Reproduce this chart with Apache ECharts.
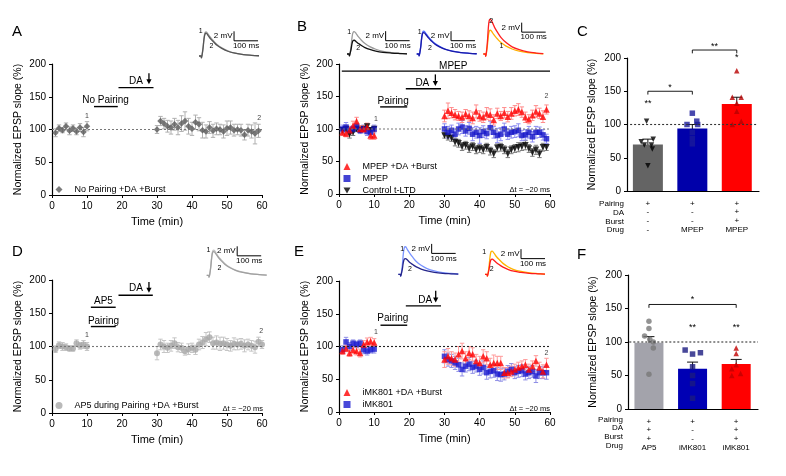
<!DOCTYPE html>
<html><head><meta charset="utf-8">
<script src="https://cdn.jsdelivr.net/npm/echarts@6/dist/echarts.min.js"></script>
<style>html,body{margin:0;padding:0;background:#fff}#c{width:786px;height:476px}</style>
</head><body><div id="c"></div>
<script>
// ---------------- DATA ----------------
const timeMin = [1,2,3,4,5,6,7,8,9,10,30,31,32,33,34,35,36,37,38,39,40,41,42,43,44,45,46,47,48,49,50,51,52,53,54,55,56,57,58,59];
const timeMinD = [1,2,3,4,5,6,7,8,9,10,30,31,32,33,34,35,36,37,38,39,40,41,42,43,44,45,46,47,48,49,50,51,52,53,54,55,56,57,58,59,60];

// Panel A: No Pairing +DA +Burst
const aNoPair = [95,102,99,105,98,102,97,103,96,105, 100,113,109,105,103,108,103,109,113,105, 101,111,108,99,97,103,98,101,100,97, 102,103,99,100,99,92,99,97,94,98];
const aNoPairErr = [6,5,4,5,6,5,5,6,7,7, 6,7,8,9,10,9,11,12,14,12, 10,11,10,12,10,9,10,9,8,10, 11,10,9,8,9,8,9,10,16,10];

// Panel B
const bMpepDaBurst = [95,93,98,105,112,100,100,103,90,90, 120,128,125,122,120,118,123,120,117,127, 120,118,124,122,114,124,120,125,119,124, 128,130,126,118,115,121,127,124,119,130];
const bMpepDaBurstErr = [5,5,6,7,6,5,5,6,6,6, 9,12,8,8,7,8,7,8,9,10, 8,8,9,9,8,8,7,8,8,9, 8,9,8,8,7,8,9,8,9,7];
const bMpep = [100,103,98,100,104,98,100,96,95,100, 100,95,98,92,100,103,97,101,92,95, 90,96,93,102,95,90,92,100,92,95, 96,98,90,91,95,88,95,95,91,85];
const bMpepErr = [6,7,5,5,5,5,6,6,7,6, 8,9,8,8,9,10,8,9,10,9, 12,9,8,10,9,11,10,9,8,9, 9,10,8,8,9,8,9,8,8,7];
const bCtrl = [98,100,92,95,100,98,100,104,98,100, 90,88,86,80,78,73,75,70,73,68, 70,68,72,66,62,71,72,68,62,68, 70,72,73,75,70,64,68,62,72,72];
const bCtrlErr = [4,4,6,5,4,4,4,4,4,4, 4,5,5,6,6,6,6,6,6,6, 6,6,6,6,6,6,6,6,6,6, 6,7,6,7,6,6,7,6,6,5];

// Panel D: AP5 during Pairing +DA +Burst
const dAp5 = [96,102,100,99,97,97,105,101,103,100, 90,103,100,98,101,105,99,98,93,96, 98,95,103,106,111,114,105,106,104,105, 103,101,104,103,104,101,103,101,99,107,103];
const dAp5Err = [5,5,6,5,4,4,5,5,6,6, 10,8,9,7,8,8,7,7,6,8, 7,7,8,9,10,8,9,10,10,9, 9,8,9,8,8,9,8,8,9,7,6];

// Panel E
const eMkDaBurst = [93,97,90,95,93,90,103,107,108,106, 80,85,82,80,88,93,82,90,88,78, 75,85,82,72,75,75,75,60,60,62, 65,68,70,72,65,70,78,68,62,72];
const eMkDaBurstErr = [5,5,5,6,6,6,6,6,6,6, 12,12,10,10,12,12,10,10,10,10, 10,10,10,10,12,10,10,8,8,8, 8,8,8,8,8,8,8,8,10,10];
const eMk = [95,107,100,105,103,105,95,93,95,96, 85,80,78,75,72,65,70,73,68,70, 65,68,60,62,63,58,57,58,62,65, 60,62,63,58,60,62,55,60,60,60];
const eMkErr = [6,7,6,5,5,5,6,6,5,6, 10,10,10,10,10,10,9,10,9,9, 9,10,10,10,10,10,10,9,9,9, 9,9,9,9,9,9,10,9,9,10];

// Panel C (bars)
const barPos = [1,2,3];
const cMeans = [70,94,131];
const cSem = [8,6,10];
const cCtrlPts = [[0.97,105],[0.85,74],[1.12,78],[0.92,69],[1.08,69],[1.1,63],[1.0,38]];
const cMpepPts = [[2.0,117],[1.88,100],[2.12,100],[2.1,105],[2.0,88],[2.0,79],[2.0,71]];
const cMpepDaPts = [[3.0,181],[2.9,141],[3.1,141],[3.0,132],[3.0,120],[2.9,100],[3.1,105]];
const cPairing = ['+','+','+'];
const cDA = ['-','-','+'];
const cBurst = ['-','-','+'];
const cDrug = ['-','MPEP','MPEP'];

// Panel F (bars)
const fMeans = [99,60,67];
const fSem = [9,10,7];
const fAp5Pts = [[1.0,131],[1.0,120],[0.9,109],[1.1,100],[1.02,104],[1.1,91],[1.0,52]];
const fMkPts = [[1.83,88],[2.0,82],[2.18,84],[2.0,63],[2.0,50],[2.0,38],[2.0,16]];
const fMkDaPts = [[3.0,91],[3.0,83],[3.0,66],[2.9,60],[3.1,53],[2.9,50]];
const fPairing = ['+','+','+'];
const fDA = ['+','-','+'];
const fBurst = ['+','-','+'];
const fDrug = ['AP5','iMK801','iMK801'];
const tableRows = ['Pairing','DA','Burst','Drug'];

// EPSP traces (ms, mV)
const traceMs = [0,8,10,13,17,21,25,30,38,48,60,75,95,120,150,185,220,250];
const trA1 = [0,0,-0.4,0.3,1.8,3.8,4.9,5.1,4.6,3.9,3.2,2.4,1.7,1.1,0.6,0.3,0.15,0.05];
const trA2 = [0,0,-0.4,0.25,1.7,3.6,4.6,4.8,4.3,3.6,3.0,2.25,1.6,1.0,0.6,0.3,0.15,0.05];
const trB1a = [0,0,-0.4,0.25,1.6,3.5,4.5,4.7,4.3,3.6,2.9,2.2,1.55,1.0,0.55,0.3,0.15,0.05];
const trB1b = [0,0,-0.4,0.15,1.0,2.2,2.8,2.9,2.6,2.2,1.8,1.35,0.95,0.6,0.35,0.2,0.1,0.03];
const trB2a = [0,0,-0.4,0.25,1.65,3.6,4.6,4.8,4.35,3.65,2.95,2.25,1.6,1.0,0.6,0.3,0.15,0.05];
const trB2b = [0,0,-0.4,0.25,1.55,3.4,4.35,4.5,4.1,3.45,2.8,2.1,1.5,0.95,0.55,0.3,0.15,0.05];
const trB3a = [0,0,-0.4,0.3,1.75,3.75,4.85,5.0,4.5,3.8,3.1,2.35,1.65,1.05,0.6,0.3,0.15,0.05];
const trB3b = [0,0,-0.5,0.35,2.5,5.5,7.1,7.3,6.6,5.5,4.5,3.4,2.4,1.5,0.9,0.45,0.2,0.07];
const trD1 = [0,0,-0.4,0.3,1.9,4.0,5.1,5.3,4.8,4.0,3.3,2.5,1.75,1.1,0.65,0.32,0.16,0.05];
const trD2 = [0,0,-0.4,0.3,1.75,3.75,4.85,5.0,4.5,3.8,3.1,2.35,1.65,1.05,0.6,0.3,0.15,0.05];
const trE1a = [0,0,-0.4,0.3,2.0,4.35,5.6,5.8,5.2,4.4,3.6,2.7,1.9,1.2,0.7,0.35,0.17,0.06];
const trE1b = [0,0,-0.4,0.17,1.15,2.5,3.2,3.3,3.0,2.5,2.05,1.55,1.1,0.7,0.4,0.2,0.1,0.03];
const trE2a = [0,0,-0.4,0.3,1.7,3.7,4.75,4.9,4.4,3.7,3.05,2.3,1.6,1.0,0.6,0.3,0.15,0.05];
const trE2b = [0,0,-0.4,0.17,1.1,2.4,3.1,3.2,2.9,2.45,2.0,1.5,1.05,0.65,0.4,0.2,0.1,0.03];

// ---------------- CHART ----------------
const FONT = '"Liberation Sans", Arial, Helvetica, sans-serif';
const chart = echarts.init(document.getElementById('c'), null, {renderer:'canvas', width:786, height:476});

const grids = [
  {left:52, top:64, width:210, height:131},   // 0 A
  {left:339, top:64, width:211, height:130},  // 1 B
  {left:627, top:58, width:132, height:133},  // 2 C
  {left:52, top:280, width:210, height:133},  // 3 D
  {left:339, top:281, width:211, height:131}, // 4 E
  {left:628, top:275, width:130, height:134}  // 5 F
];
const insets = [
  {l:199, base:56, tr:[[trA1,'#a3a3a3'],[trA2,'#555555']], bar:[146,3.2], lab:[[7,5.3,'1'],[52,2.0,'2']]},
  {l:347, base:54, tr:[[trB1a,'#9a9a9a'],[trB1b,'#111111']], bar:[161,2.8], lab:[[9,4.7,'1'],[47,1.2,'2']]},
  {l:416.7, base:54, tr:[[trB2a,'#4d6bff'],[trB2b,'#1a1aa8']], bar:[143,2.8], lab:[[12,4.7,'1'],[55,1.3,'2']]},
  {l:483.3, base:54, tr:[[trB3a,'#ffb000'],[trB3b,'#ff2020']], bar:[160,4.6], lab:[[33,6.9,'2'],[76,1.6,'1']]},
  {l:206.7, base:275.3, tr:[[trD1,'#c4c4c4'],[trD2,'#a0a0a0']], bar:[127,4.1], lab:[[7,5.3,'1'],[53,1.5,'2']]},
  {l:398.3, base:274.3, tr:[[trE1a,'#7a94ff'],[trE1b,'#25258a']], bar:[139,4.4], lab:[[16,5.4,'1'],[49,1.1,'2']]},
  {l:485, base:274.3, tr:[[trE2a,'#ffb300'],[trE2b,'#ff1a1a']], bar:[150,3.3], lab:[[-3,4.7,'1'],[28,1.0,'2']]}
];
const PXMS = 0.24, PXMV = 4.75;

const xAxes = [], yAxes = [], series = [];
const axisLineStyle = {color:'#000', width:1.2};

function timeX(gi){
  return {gridIndex:gi, type:'value', min:0, max:60, interval:10, name:'Time (min)', nameLocation:'middle', nameGap:21, nameMoveOverlap:false,
    nameTextStyle:{fontSize:11, color:'#000', fontFamily:FONT},
    axisLine:{lineStyle:axisLineStyle}, axisTick:{length:3, lineStyle:{color:'#000'}},
    axisLabel:{fontSize:10, color:'#000', margin:6, fontFamily:FONT}, splitLine:{show:false}};
}
function epspY(gi, gap){
  return {gridIndex:gi, type:'value', min:0, max:200, interval:50, name:'Normalized EPSP slope (%)', nameLocation:'middle', nameGap:gap, nameMoveOverlap:false,
    nameTextStyle:{fontSize:10.5, color:'#000', fontFamily:FONT},
    axisLine:{show:true, lineStyle:axisLineStyle}, axisTick:{show:true, length:3, lineStyle:{color:'#000'}},
    axisLabel:{fontSize:10, color:'#000', margin:6, fontFamily:FONT}, splitLine:{show:false}};
}
function barX(gi, min, rows){
  return {gridIndex:gi, type:'value', min:min, max:3.5, axisLine:{lineStyle:axisLineStyle}, axisTick:{show:false}, splitLine:{show:false},
    axisLabel:{customValues:barPos, fontSize:8, lineHeight:8.8, color:'#000', margin:8, fontFamily:FONT,
      formatter:(v)=>{const i=Math.round(v)-1; return rows.map(r=>r[i]).join('\n');}}};
}

// main axes
xAxes.push(timeX(0)); yAxes.push(epspY(0,28));
xAxes.push(timeX(1)); yAxes.push(epspY(1,28));
xAxes.push(barX(2,0.53,[cPairing,cDA,cBurst,cDrug])); yAxes.push(epspY(2,29));
xAxes.push(timeX(3)); yAxes.push(epspY(3,28));
xAxes.push(timeX(4)); yAxes.push(epspY(4,28));
xAxes.push(barX(5,0.52,[fPairing,fDA,fBurst,fDrug])); yAxes.push(epspY(5,29));

// inset axes
insets.forEach((ins,k)=>{
  const gi = 6+k;
  grids.push({left:ins.l, top:ins.base-8*PXMV, width:250*PXMS, height:9*PXMV});
  xAxes.push({gridIndex:gi, type:'value', min:0, max:250, show:false});
  yAxes.push({gridIndex:gi, type:'value', min:-1, max:8, show:false});
  ins.tr.forEach(([vals,col])=>{
    series.push({type:'line', xAxisIndex:gi, yAxisIndex:gi, data:traceMs.map((t,i)=>[t,vals[i]]), showSymbol:false, smooth:0.35,
      lineStyle:{color:col, width:1.3}, silent:true, z:3});
  });
  series.push({type:'custom', xAxisIndex:gi, yAxisIndex:gi, data:[[0,0]], silent:true, z:4, clip:false,
    renderItem:(p, api)=>{
      const b0 = api.coord([ins.bar[0], ins.bar[1]]);
      const b1 = api.coord([ins.bar[0], ins.bar[1]+2]);
      const b2 = api.coord([ins.bar[0]+100, ins.bar[1]]);
      const ch = [
        {type:'line', shape:{x1:b0[0],y1:b0[1],x2:b1[0],y2:b1[1]}, style:{stroke:'#000', lineWidth:1}},
        {type:'line', shape:{x1:b0[0],y1:b0[1],x2:b2[0],y2:b2[1]}, style:{stroke:'#000', lineWidth:1}},
        {type:'text', x:b0[0]-1.5, y:(b0[1]+b1[1])/2, style:{text:'2 mV', fontSize:8, fill:'#000', align:'right', verticalAlign:'middle', fontFamily:FONT}},
        {type:'text', x:(b0[0]+b2[0])/2, y:b0[1]+1, style:{text:'100 ms', fontSize:8, fill:'#000', align:'center', verticalAlign:'top', fontFamily:FONT}}
      ];
      ins.lab.forEach(l=>{const q=api.coord([l[0],l[1]]); ch.push({type:'text', x:q[0], y:q[1], style:{text:l[2], fontSize:7, fill:'#000', align:'center', verticalAlign:'middle', fontFamily:FONT}});});
      return {type:'group', children:ch};
    }});
});

function errSeries(gi, times, vals, errs, color, cap){
  return {type:'custom', xAxisIndex:gi, yAxisIndex:gi, silent:true, z:2, clip:false,
    data: times.map((t,i)=>[t, vals[i], errs[i]]),
    renderItem:(p, api)=>{
      const x=api.value(0), y=api.value(1), e=api.value(2);
      const a=api.coord([x,y+e]), b=api.coord([x,y-e]);
      const st={stroke:color, lineWidth:1};
      return {type:'group', children:[
        {type:'line', shape:{x1:a[0],y1:a[1],x2:b[0],y2:b[1]}, style:st},
        {type:'line', shape:{x1:a[0]-cap,y1:a[1],x2:a[0]+cap,y2:a[1]}, style:st},
        {type:'line', shape:{x1:b[0]-cap,y1:b[1],x2:b[0]+cap,y2:b[1]}, style:st}]};
    }};
}
function scat(gi, name, times, vals, color, symbol, size, rot){
  return {type:'scatter', name:name, xAxisIndex:gi, yAxisIndex:gi, data:times.map((t,i)=>[t,vals[i]]),
    symbol:symbol, symbolSize:size, symbolRotate:rot||0, itemStyle:{color:color}, z:3, silent:true};
}
function annot(gi, cfg){
  return {type:'custom', xAxisIndex:gi, yAxisIndex:gi, data:[[0,0]], silent:true, z:5, clip:false,
    renderItem:(p, api)=>{
      const ch=[];
      (cfg.dash||[]).forEach(s=>{const a=api.coord([s[0],s[2]]), b=api.coord([s[1],s[2]]);
        ch.push({type:'line', shape:{x1:a[0],y1:a[1],x2:b[0],y2:b[1]}, style:{stroke:s[3], lineWidth:1.1, lineDash:[2,2]}});});
      (cfg.segs||[]).forEach(s=>{const a=api.coord([s[0],s[2]]), b=api.coord([s[1],s[2]]);
        ch.push({type:'line', shape:{x1:a[0],y1:a[1],x2:b[0],y2:b[1]}, style:{stroke:'#000', lineWidth:1.4}});});
      (cfg.brackets||[]).forEach(s=>{const a=api.coord([s[0],s[2]]), b=api.coord([s[1],s[2]]), d=api.coord([s[0],s[2]-5]);
        const h=d[1]-a[1];
        ch.push({type:'polyline', shape:{points:[[a[0],a[1]+h],[a[0],a[1]],[b[0],b[1]],[b[0],b[1]+h]]}, style:{stroke:'#000', lineWidth:0.9, fill:null}});});
      (cfg.texts||[]).forEach(t=>{const q=api.coord([t[0],t[1]]);
        ch.push({type:'text', x:q[0], y:q[1], style:{text:t[2], fontSize:t[3], fill:t[4]||'#000', align:'center', verticalAlign:'middle', fontFamily:FONT}});});
      (cfg.arrows||[]).forEach(a=>{const q=api.coord([a[0],a[1]]), r=api.coord([a[0],a[2]]);
        ch.push({type:'line', shape:{x1:q[0],y1:q[1],x2:r[0],y2:r[1]-3}, style:{stroke:'#000', lineWidth:1.3}});
        ch.push({type:'polygon', shape:{points:[[r[0]-2.6,r[1]-5],[r[0]+2.6,r[1]-5],[r[0],r[1]]]}, style:{fill:'#000'}});});
      return {type:'group', children:ch};
    }};
}

// Panel A
series.push(annot(0,{dash:[[0,60,100,'#777']], segs:[[12,18.8,135],[19,29,164]],
  texts:[[15.3,144,'No Pairing',10],[24,173,'DA',10],[10,121,'1',7,'#444'],[59.2,118,'2',7,'#444']], arrows:[[27.7,186,169]]}));
series.push(errSeries(0, timeMin, aNoPair, aNoPairErr, '#b0b0b0', 2.2));
series.push(scat(0,'No Pairing +DA +Burst', timeMin, aNoPair, '#5a5a5a','diamond',6.5));

// Panel B
series.push(annot(1,{dash:[[0,60,100,'#777']], segs:[[11.7,19.4,134],[19,29,162],[0.8,60,189]],
  texts:[[15.4,142,'Pairing',10],[23.7,170,'DA',10],[32.5,197,'MPEP',10],[10.5,116,'1',7,'#444'],[59,150,'2',7,'#444']], arrows:[[27.4,184,166]]}));
series.push(errSeries(1, timeMin, bCtrl, bCtrlErr, '#7a7a7a', 2.2));
series.push(errSeries(1, timeMin, bMpep, bMpepErr, '#8c8cf0', 2.2));
series.push(errSeries(1, timeMin, bMpepDaBurst, bMpepDaBurstErr, '#ff8c8c', 2.2));
series.push(scat(1,'Control t-LTD', timeMin, bCtrl, '#000','triangle',6.5,180));
series.push(scat(1,'MPEP', timeMin, bMpep, '#1414c8','rect',5.5));
series.push(scat(1,'MPEP +DA +Burst', timeMin, bMpepDaBurst, '#ff0000','triangle',6.5));

// Panel C
series.push({type:'bar', xAxisIndex:2, yAxisIndex:2, barWidth:30, silent:true, z:2,
  data: barPos.map((x,i)=>({value:[x,cMeans[i]], itemStyle:{color:['#646464','#0000aa','#ff0000'][i]}}))});
series.push(errSeries(2, barPos, cMeans, cSem, '#111', 5.5));
series.push(annot(2,{dash:[[0.6,3.45,100,'#333']], brackets:[[1,2,150],[2,3,212]],
  texts:[[1.5,155,'*',9],[2.5,218,'**',9],[1,131,'**',9],[3,200,'*',9]]}));
series.push({type:'scatter', name:'c1', xAxisIndex:2, yAxisIndex:2, data:cCtrlPts, symbol:'triangle', symbolRotate:180, symbolSize:5.5, itemStyle:{color:'#000'}, z:4, silent:true});
series.push({type:'scatter', name:'c2', xAxisIndex:2, yAxisIndex:2, data:cMpepPts, symbol:'rect', symbolSize:5.5, itemStyle:{color:'#1a1a9a'}, z:4, silent:true});
series.push({type:'scatter', name:'c3', xAxisIndex:2, yAxisIndex:2, data:cMpepDaPts, symbol:'triangle', symbolSize:5.5, itemStyle:{color:'#b80000'}, z:4, silent:true});

// Panel D
series.push(annot(3,{dash:[[0,60,100,'#777']], segs:[[11.1,18.2,159],[11.1,18.2,130],[19,28.8,177]],
  texts:[[14.7,167.5,'AP5',10],[14.7,138.5,'Pairing',10],[24,187,'DA',10],[10,117,'1',7,'#444'],[59.8,123,'2',7,'#444']], arrows:[[27.7,197,181]]}));
series.push(errSeries(3, timeMinD, dAp5, dAp5Err, '#c6c6c6', 2.2));
series.push(scat(3,'AP5 during Pairing +DA +Burst', timeMinD, dAp5, '#a8a8a8','circle',6));

// Panel E
series.push(annot(4,{dash:[[0,60,100,'#222']], segs:[[11.8,19.4,132.5],[19,29,162]],
  texts:[[15.3,142.5,'Pairing',10],[24.5,170.5,'DA',10],[10.5,122.5,'1',7,'#444'],[59,90,'2',7,'#444']], arrows:[[27.5,185,167]]}));
series.push(errSeries(4, timeMin, eMk, eMkErr, '#8f8fe6', 2.2));
series.push(errSeries(4, timeMin, eMkDaBurst, eMkDaBurstErr, '#ff9a9a', 2.2));
series.push(scat(4,'iMK801', timeMin, eMk, '#1a1ad0','rect',5.5));
series.push(scat(4,'iMK801 +DA +Burst', timeMin, eMkDaBurst, '#ff0000','triangle',6.5));

// Panel F
series.push({type:'bar', xAxisIndex:5, yAxisIndex:5, barWidth:29, silent:true, z:2,
  data: barPos.map((x,i)=>({value:[x,fMeans[i]], itemStyle:{color:['#a3a3ab','#0000b4','#ff0000'][i]}}))});
series.push(errSeries(5, barPos, fMeans, fSem, '#111', 5.5));
series.push(annot(5,{dash:[[0.55,3.5,100,'#333']], brackets:[[1,3,156]],
  texts:[[2,163,'*',9],[2,121,'**',9],[3,121,'**',9]]}));
series.push({type:'scatter', name:'f1', xAxisIndex:5, yAxisIndex:5, data:fAp5Pts, symbol:'circle', symbolSize:5.5, itemStyle:{color:'#787878'}, z:4, silent:true});
series.push({type:'scatter', name:'f2', xAxisIndex:5, yAxisIndex:5, data:fMkPts, symbol:'rect', symbolSize:5.5, itemStyle:{color:'#1a1a80'}, z:4, silent:true});
series.push({type:'scatter', name:'f3', xAxisIndex:5, yAxisIndex:5, data:fMkDaPts, symbol:'triangle', symbolSize:5.5, itemStyle:{color:'#c00000'}, z:4, silent:true});

const DOWN_TRI = 'path://M0,0L10,0L5,8.66Z';
const legBase = {padding:0, itemWidth:7, itemHeight:7, itemGap:3, orient:'vertical', selectedMode:false, symbolKeepAspect:true, symbolRotate:'inherit',
  textStyle:{fontSize:9, color:'#000', fontFamily:FONT, padding:[0,0,0,7]}};
const legends = [
  Object.assign({}, legBase, {data:['No Pairing +DA +Burst'], left:55.5, top:185}),
  Object.assign({}, legBase, {data:['MPEP +DA +Burst','MPEP',{name:'Control t-LTD', icon:DOWN_TRI}], left:343.5, top:162}),
  Object.assign({}, legBase, {data:['AP5 during Pairing +DA +Burst'], left:55.5, top:401}),
  Object.assign({}, legBase, {data:['iMK801 +DA +Burst','iMK801'], left:343.5, top:388})
];

function txt(x,y,s,size,align,extra){
  return Object.assign({type:'text', x:x, y:y, silent:true, style:{text:s, fontSize:size, fill:'#000', align:align||'left', verticalAlign:'middle', fontFamily:FONT}}, extra||{});
}
const graphics = [
  txt(12,32,'A',15), txt(297,27,'B',15), txt(577,32,'C',15),
  txt(12,252,'D',15), txt(294,252,'E',15), txt(577,255,'F',15),
  txt(550,190,'Δt = −20 ms',7.5,'right'), txt(263,409,'Δt = −20 ms',7.5,'right'), txt(550,409,'Δt = −20 ms',7.5,'right')
];
tableRows.forEach((r,i)=>{
  graphics.push(txt(624, 204+i*8.7, r, 8, 'right'));
  graphics.push(txt(623, 419.5+i*8.7, r, 8, 'right'));
});

chart.setOption({
  animation:false,
  backgroundColor:'#fff',
  textStyle:{fontFamily:FONT},
  grid:grids, xAxis:xAxes, yAxis:yAxes, series:series, legend:legends, graphic:graphics
});
</script></body></html>
